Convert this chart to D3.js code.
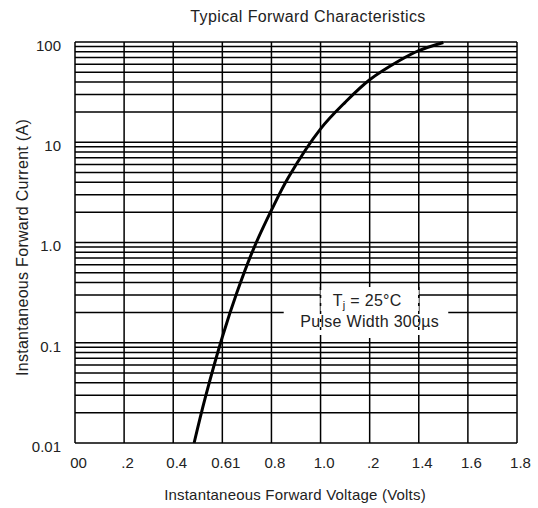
<!DOCTYPE html>
<html>
<head>
<meta charset="utf-8">
<script src="https://cdn.jsdelivr.net/npm/d3@7"></script>
<style>
  body { margin: 0; background: #fff; }
  text { font-family: "Liberation Sans", Arial, sans-serif; fill: #222; }
</style>
</head>
<body>
<div id="chart-area"></div>
<script>
// curve
var voltage = [0.485, 0.53, 0.60, 0.66, 0.725, 0.80, 0.87, 1.0, 1.1, 1.2, 1.32, 1.4, 1.5];
var current = [0.01, 0.028, 0.114, 0.32, 0.84, 2.1, 4.5, 13.6, 25, 42, 65, 82, 99];

var xTickValues = [0, 0.2, 0.4, 0.6, 0.8, 1.0, 1.2, 1.4, 1.6, 1.8];
var xTickLabels = ["00", ".2", "0.4", "0.61", "0.8", "1.0", ".2", "1.4", "1.6", "1.8"];
var yTickValues = [0.01, 0.1, 1, 10, 100];
var yTickLabels = ["0.01", "0.1", "1.0", "10", "100"];

var margin = { left: 75, right: 21, top: 42, bottom: 65 };
var width = 538 - margin.left - margin.right;
var height = 508 - margin.top - margin.bottom;

var svg = d3.select("#chart-area")
    .append("svg")
    .attr("width", 538)
    .attr("height", 508)
    .append("g")
    .attr("transform", "translate(" + margin.left + ", " + margin.top + ")");

var x = d3.scaleLinear().domain([0, 1.8]).range([0, width]);
var y = d3.scaleLog().domain([0.01, 100]).range([height, 0]);

// horizontal grid (1..9 per decade)
svg.append("g")
    .attr("class", "grid")
    .selectAll("line")
    .data(y.ticks())
    .enter()
    .append("line")
    .attr("x1", 0)
    .attr("x2", width)
    .attr("y1", d => y(d))
    .attr("y2", d => y(d))
    .attr("stroke", "#000")
    .attr("stroke-width", 1.5);

// vertical grid
svg.append("g")
    .selectAll("line")
    .data(xTickValues)
    .enter()
    .append("line")
    .attr("x1", d => x(d))
    .attr("x2", d => x(d))
    .attr("y1", 0)
    .attr("y2", height)
    .attr("stroke", "#000")
    .attr("stroke-width", 1.5);

// annotation boxes (cover the grid)
svg.append("rect")
    .attr("x", x(1.0))
    .attr("y", 245)
    .attr("width", x(1.4) - x(1.0))
    .attr("height", 24)
    .attr("fill", "#fff");
svg.append("rect")
    .attr("x", x(0.85))
    .attr("y", 269)
    .attr("width", x(1.52) - x(0.85))
    .attr("height", 27)
    .attr("fill", "#fff");
[1.0, 1.4].forEach(v => {
    svg.append("line")
        .attr("x1", x(v)).attr("x2", x(v))
        .attr("y1", 245).attr("y2", 298)
        .attr("stroke", "#000")
        .attr("stroke-width", 1.5)
        .attr("stroke-dasharray", "3,5");
});

var label = svg.append("text")
    .attr("x", x(1.19))
    .attr("y", 264)
    .attr("text-anchor", "middle")
    .style("font-size", "16px")
    .style("letter-spacing", "0.3px");
label.append("tspan").text("T");
label.append("tspan").attr("dy", 3).style("font-size", "11px").text("j");
label.append("tspan").attr("dy", -3).text("  = 25°C");

svg.append("text")
    .attr("x", x(1.2))
    .attr("y", 285)
    .attr("text-anchor", "middle")
    .style("font-size", "16px")
    .style("letter-spacing", "0.3px")
    .text("Pulse Width 300µs");

// the curve
var line = d3.line()
    .x(d => x(d[0]))
    .y(d => y(d[1]))
    .curve(d3.curveCatmullRom.alpha(0.5));

svg.append("path")
    .datum(voltage.map((v, i) => [v, current[i]]))
    .attr("d", line)
    .attr("fill", "none")
    .attr("stroke", "#000")
    .attr("stroke-width", 3);

// axes
var xAxis = d3.axisBottom(x)
    .tickValues(xTickValues)
    .tickSize(0)
    .tickPadding(14)
    .tickFormat((d, i) => xTickLabels[i]);

svg.append("g")
    .attr("class", "x axis")
    .attr("transform", "translate(0, " + height + ")")
    .call(xAxis)
    .call(g => g.select(".domain").remove())
    .selectAll("text")
    .attr("dx", 3)
    .style("font-size", "15px");

var yAxis = d3.axisLeft(y)
    .tickValues(yTickValues)
    .tickSize(0)
    .tickPadding(14)
    .tickFormat((d, i) => yTickLabels[i]);

svg.append("g")
    .attr("class", "y axis")
    .call(yAxis)
    .call(g => g.select(".domain").remove())
    .selectAll("text")
    .attr("dy", "0.55em")
    .style("font-size", "15px");

svg.selectAll(".axis text").style("fill", "#222").style("font-family", "Liberation Sans, Arial, sans-serif");

// titles
svg.append("text")
    .attr("x", 233)
    .attr("y", -20)
    .attr("text-anchor", "middle")
    .style("font-size", "16px")
    .style("letter-spacing", "0.4px")
    .text("Typical Forward Characteristics");

svg.append("text")
    .attr("x", 220)
    .attr("y", height + 57)
    .attr("text-anchor", "middle")
    .style("font-size", "15px")
    .style("letter-spacing", "0.2px")
    .text("Instantaneous Forward Voltage (Volts)");

svg.append("text")
    .attr("x", -(height / 2) - 5)
    .attr("y", -47)
    .attr("text-anchor", "middle")
    .attr("transform", "rotate(-90)")
    .style("font-size", "16px")
    .style("letter-spacing", "0.3px")
    .text("Instantaneous Forward Current (A)");
</script>
</body>
</html>
